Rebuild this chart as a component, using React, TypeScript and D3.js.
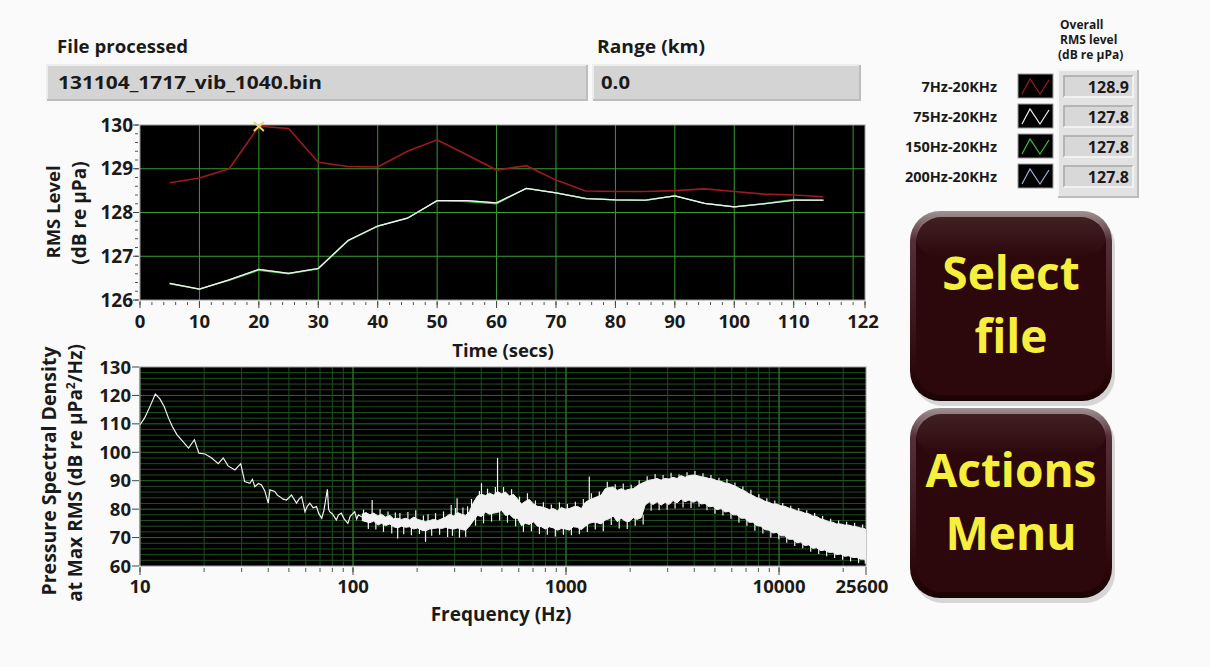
import React from "react";
import * as d3 from "d3";

// ---------- DATA ----------
const fileName = "131104_1717_vib_1040.bin";
const rangeKm = "0.0";

const timeSecs = [5, 10, 15, 20, 25, 30, 35, 40, 45, 50, 55, 60, 65, 70, 75, 80, 85, 90, 95, 100, 105, 110, 115];
const rms7Hz = [128.68, 128.79, 129.0, 129.97, 129.92, 129.15, 129.05, 129.04, 129.4, 129.66, 129.32, 128.97, 129.07, 128.74, 128.49, 128.48, 128.48, 128.5, 128.54, 128.48, 128.42, 128.4, 128.36];
const rms75Hz = [126.38, 126.25, 126.46, 126.7, 126.61, 126.72, 127.36, 127.69, 127.87, 128.27, 128.27, 128.22, 128.55, 128.45, 128.32, 128.29, 128.28, 128.38, 128.21, 128.13, 128.2, 128.28, 128.28];
const rms150Hz = [126.37, 126.25, 126.45, 126.68, 126.6, 126.71, 127.35, 127.69, 127.87, 128.27, 128.25, 128.2, 128.55, 128.45, 128.32, 128.29, 128.28, 128.38, 128.21, 128.13, 128.2, 128.3, 128.28];
const rms200Hz = [126.38, 126.25, 126.46, 126.7, 126.61, 126.72, 127.36, 127.69, 127.87, 128.27, 128.27, 128.22, 128.55, 128.45, 128.32, 128.29, 128.28, 128.38, 128.21, 128.13, 128.2, 128.28, 128.28];

const bandNames = ["7Hz-20KHz", "75Hz-20KHz", "150Hz-20KHz", "200Hz-20KHz"];
const bandColors = ["#a3191b", "#f2f2f2", "#3fbf3f", "#8fb8d8"];
const overallRms = ["128.9", "127.8", "127.8", "127.8"];

const timeTicks = [0, 10, 20, 30, 40, 50, 60, 70, 80, 90, 100, 110, 122];
const timeGrid = [10, 20, 30, 40, 50, 60, 70, 80, 90, 100, 110, 120];
const rmsTicks = [126, 127, 128, 129, 130];

const freqTicks = [10, 100, 1000, 10000, 25600];
const psdTicks = [60, 70, 80, 90, 100, 110, 120, 130];

// PSD single trace, 10 Hz .. 110 Hz  [Hz, dB]
const psdTrace: [number, number][] = [
  [10, 109.7], [10.5, 112], [11.2, 116.5], [11.8, 120.5], [12.4, 118.8], [13.0, 116], [13.6, 112.1], [14.2, 109],
  [14.9, 106.2], [15.8, 104], [16.9, 101.5], [18.0, 104.4], [18.9, 99.7], [20.2, 99.4], [21.7, 98.0], [23.3, 96.0],
  [24.6, 98.0], [25.9, 95.2], [27.9, 93.8], [29.7, 96.0], [31.0, 89.7], [32.8, 89.1], [33.7, 90.5], [34.6, 87.9],
  [36, 89], [37.2, 88.5], [38.5, 86.5], [40.0, 82.1], [40.7, 86.8], [42.9, 86.2], [44, 85], [45.3, 84.4],
  [47, 83.5], [48.7, 83.2], [50, 84], [51.4, 85.0], [54.3, 82.1], [55.8, 83.5], [57.4, 84.4], [59.5, 79.1],
  [61, 81], [62.7, 82.1], [65, 80.5], [67.4, 80.9], [69, 78.5], [71.3, 76.8], [73, 79.5], [75.8, 87.0],
  [76.8, 80], [77.7, 79.1], [80, 78.3], [83.5, 76.2], [85.5, 78], [88.1, 78.6], [91, 76.5], [94.6, 75.0],
  [97, 77.5], [101.9, 79.1], [104, 76.5], [106, 78], [110, 77.2],
];

// PSD dense band, 110 Hz .. 25.6 kHz  [Hz, upper dB, lower dB]
const psdBand: [number, number, number][] = [
  [110, 78.2, 76.0], [115, 78.8, 75.6], [120, 78.0, 75.2], [125, 78.6, 75.8], [131, 77.6, 74.4], [136, 78.2, 75.0],
  [142, 77.2, 74.2], [149, 77.8, 74.8], [155, 76.6, 73.8], [162, 76.8, 73.4], [169, 76.4, 74.0], [177, 76.8, 73.6],
  [184, 76.2, 73.8], [193, 77.2, 73.0], [201, 76.4, 73.4], [210, 76.0, 72.6], [219, 75.6, 72.4], [229, 76.0, 73.0],
  [239, 76.4, 73.2], [250, 76.0, 73.4], [261, 76.6, 73.2], [272, 77.2, 73.6], [284, 78.2, 73.2], [297, 77.6, 73.0],
  [310, 78.8, 73.4], [323, 78.2, 72.8], [338, 77.8, 72.6], [352, 79.2, 74.0], [368, 82.4, 76.0], [384, 84.6, 77.8],
  [401, 85.2, 77.4], [419, 84.8, 79.0], [437, 85.6, 78.2], [457, 85.0, 78.6], [477, 86.2, 78.8], [498, 85.4, 79.6],
  [520, 86.0, 77.8], [543, 84.6, 78.2], [567, 85.2, 76.8], [592, 83.6, 76.8], [618, 81.8, 74.2], [645, 82.8, 75.0],
  [673, 83.4, 74.6], [703, 81.8, 75.6], [734, 81.0, 74.0], [766, 80.8, 73.8], [800, 80.4, 73.0], [835, 79.8, 73.8],
  [872, 80.2, 73.4], [911, 79.4, 72.6], [951, 80.6, 73.2], [993, 80.0, 73.0], [1037, 80.2, 72.6], [1082, 80.8, 73.8],
  [1130, 81.0, 73.6], [1180, 80.2, 72.8], [1232, 82.4, 74.0], [1286, 83.2, 75.0], [1343, 83.8, 75.4], [1402, 84.4, 75.2],
  [1464, 85.0, 74.8], [1528, 87.2, 76.2], [1596, 87.6, 76.6], [1666, 87.8, 77.6], [1739, 86.6, 75.6], [1816, 87.2, 76.8],
  [1896, 86.6, 75.8], [1980, 87.0, 75.6], [2067, 87.2, 77.0], [2158, 88.2, 76.4], [2253, 89.0, 77.0], [2352, 89.6, 81.4],
  [2456, 90.2, 82.6], [2564, 90.4, 81.6], [2677, 90.8, 82.6], [2795, 90.2, 81.4], [2918, 90.8, 82.4], [3047, 90.6, 81.6],
  [3181, 91.2, 83.0], [3321, 90.8, 82.2], [3468, 91.8, 83.6], [3621, 91.2, 82.6], [3780, 91.8, 83.2], [3947, 92.0, 82.4],
  [4120, 91.8, 83.0], [4302, 91.4, 81.8], [4492, 91.2, 82.0], [4690, 90.8, 80.8], [4896, 90.6, 81.0], [5112, 90.0, 79.8],
  [5337, 89.8, 80.2], [5572, 89.2, 79.0], [5818, 89.0, 79.2], [6074, 88.4, 78.0], [6342, 87.8, 78.0], [6621, 87.0, 76.8],
  [6913, 86.4, 76.8], [7218, 85.4, 75.4], [7535, 84.8, 75.4], [7867, 84.0, 74.2], [8214, 83.6, 74.0], [8576, 82.8, 72.8],
  [8954, 82.4, 72.6], [9348, 81.8, 71.6], [9760, 81.8, 71.8], [10190, 81.2, 70.6], [10640, 81.0, 70.6], [11110, 80.4, 69.4],
  [11600, 80.0, 69.4], [12110, 79.4, 68.2], [12640, 79.2, 68.4], [13200, 78.6, 67.2], [13780, 78.4, 67.4], [14390, 77.6, 66.2],
  [15020, 77.4, 66.4], [15680, 76.6, 65.4], [16370, 76.2, 65.6], [17100, 75.6, 64.8], [17850, 75.4, 64.8], [18640, 74.8, 64.0],
  [19460, 74.8, 64.2], [20310, 74.4, 63.4], [21210, 74.4, 63.6], [22140, 74.0, 63.0], [23120, 73.8, 63.0], [24140, 73.4, 62.4],
  [25200, 73.2, 62.4], [25600, 72.6, 61.6],
];

// PSD spikes on the band edges  [Hz, top dB, bottom dB]
const psdSpikes: [number, number, number][] = [
  [112, 79.8, 76], [118, 76, 73.0], [123, 83.2, 77], [128, 76, 72.8], [134, 80.0, 76], [139, 75, 72.0], [146, 79.2, 76],
  [152, 75, 71.4], [158, 78.8, 75], [162, 75, 69.7], [166, 78.6, 75], [173, 74, 71.2], [181, 79.0, 75], [188, 74, 70.8],
  [197, 79.6, 75], [205, 74, 71.2], [214, 77.8, 74], [219, 74, 68.5], [225, 78.2, 74], [234, 74, 70.6], [244, 78.6, 74],
  [255, 74, 71.0], [266, 79.2, 75], [278, 74, 70.2], [289, 81.5, 75], [293, 74, 70.6], [303, 80.4, 75], [308, 83.8, 75],
  [316, 74, 70.0], [328, 80.6, 75], [338, 74, 70.3], [345, 81.0, 75],
  [360, 83.6, 78], [376, 78, 74.2], [392, 86.4, 80], [401, 89.1, 80], [410, 79, 75.0], [428, 87.2, 81], [447, 79, 75.6],
  [466, 87.8, 81], [477, 98.0, 82], [488, 80, 76.0], [509, 87.8, 82], [531, 79, 75.2], [555, 87.0, 81], [580, 78, 74.0],
  [605, 84.4, 79], [631, 76, 72.0], [659, 85.6, 79], [688, 76, 72.2], [718, 83.0, 78], [750, 75, 71.2], [783, 82.4, 77],
  [817, 75, 71.0], [853, 81.6, 77], [891, 75, 70.4], [931, 82.4, 77], [972, 75, 71.0], [1015, 81.8, 77], [1060, 75, 70.8],
  [1106, 82.6, 77], [1155, 75, 71.2], [1206, 83.6, 78], [1259, 76, 72.0], [1286, 91.5, 80], [1315, 85.6, 80], [1372, 77, 72.8],
  [1433, 86.2, 80], [1496, 76, 72.2], [1562, 89.6, 83], [1631, 78, 74.4], [1702, 88.8, 82], [1777, 77, 73.2], [1856, 89.0, 83],
  [1938, 77, 73.0], [2023, 88.6, 83], [2112, 78, 74.2], [2205, 90.2, 84], [2302, 78, 74.6],
  [2404, 91.6, 86], [2510, 83, 79.4], [2620, 92.4, 86], [2736, 83, 79.6], [2856, 92.0, 86], [2982, 83, 79.8], [3113, 92.8, 86],
  [3250, 83, 80.2], [3393, 92.2, 86], [3543, 84, 80.6], [3699, 93.0, 87], [3862, 84, 80.4], [4032, 93.4, 87], [4210, 84, 80.8],
  [4396, 92.6, 87], [4589, 83, 79.6], [4792, 92.0, 86], [5003, 82, 78.4], [5223, 91.0, 86], [5453, 81, 77.8], [5695, 90.6, 85],
  [5946, 80, 76.6], [6207, 89.4, 84], [6481, 79, 75.2], [6767, 88.0, 83], [7065, 78, 74.2], [7377, 86.8, 82], [7702, 76, 72.4],
  [8041, 85.2, 80], [8395, 75, 71.4], [8765, 83.8, 79], [9151, 74, 70.0], [9553, 83.0, 78], [9975, 73, 69.4], [10410, 82.2, 77],
  [10870, 72, 68.2], [11350, 81.2, 76], [11850, 71, 67.0], [12370, 80.4, 75], [12920, 70, 66.2], [13490, 79.6, 74],
  [14080, 69, 65.0], [14700, 78.6, 73], [15350, 68, 64.2], [16020, 77.6, 72], [16730, 67, 63.4], [17470, 76.6, 71],
  [18240, 66, 62.8], [19040, 76.0, 70], [19880, 65, 62.2], [20760, 75.6, 70], [21670, 65, 61.6], [22630, 75.2, 69],
  [23630, 64, 61.0], [24670, 74.6, 69], [25400, 64, 60.8],
];

// ---------- STYLE ----------
const FONT = "'Open Sans', 'Noto Sans', sans-serif";
const TXT = "#1a1a1a";

function Button({ x, y, w, h, lines }: { x: number; y: number; w: number; h: number; lines: string[] }) {
  return (
    <g transform={`translate(${x},${y})`}>
      <rect x={3} y={5} width={w} height={h} rx={30} fill="#b8b8b8" opacity={0.55} />
      <rect x={0} y={0} width={w} height={h} rx={30} fill="url(#btnRim)" />
      <rect x={6} y={6} width={w - 12} height={h - 12} rx={25} fill="#2c080c" />
      <rect x={6} y={6} width={w - 12} height={40} rx={25} fill="url(#btnGloss)" />
      {lines.map((t, i) => (
        <text
          key={t}
          x={w / 2}
          y={i === 0 ? 79 : 142}
          textAnchor="middle"
          fontFamily={FONT}
          fontWeight={700}
          fontSize={46}
          fill="#f6ef3c"
        >
          {t}
        </text>
      ))}
    </g>
  );
}

export default function App() {
  // top chart scales
  const xT = d3.scaleLinear().domain([0, 122]).range([140, 865]);
  const yT = d3.scaleLinear().domain([126, 130]).range([300, 125]);
  const lineT = (vals: number[]) =>
    d3.line<number>().x((_, i) => xT(timeSecs[i])).y((d) => yT(d))(vals) || "";

  // bottom chart scales
  const xB = d3.scaleLog().domain([10, 25600]).range([140, 866]);
  const yB = d3.scaleLinear().domain([60, 130]).range([566, 367]);

  const trace =
    d3.line<[number, number]>().x((d) => xB(d[0])).y((d) => yB(d[1]))(psdTrace) || "";
  const bandArea =
    d3
      .area<[number, number, number]>()
      .x((d) => xB(d[0]))
      .y0((d) => yB(d[2]))
      .y1((d) => yB(d[1]))(psdBand) || "";
  const bandHiLine =
    d3.line<[number, number, number]>().x((d) => xB(d[0])).y((d) => yB(d[1]))(psdBand) || "";
  const bandLoLine =
    d3.line<[number, number, number]>().x((d) => xB(d[0])).y((d) => yB(d[2]))(psdBand) || "";

  const timeMinor = d3.range(0, 123, 2);
  const rmsMinor = d3.range(126, 130.001, 0.2);

  const freqMinor: number[] = [];
  [10, 100, 1000, 10000].forEach((dec) => {
    for (let k = 1; k <= 9; k++) {
      const f = k * dec;
      if (f <= 25600) freqMinor.push(f);
    }
  });
  const freqMajorGrid = [100, 1000, 10000];
  const psdGrid = d3.range(62, 130, 2);

  const legendRowY = [86, 116, 146, 176];
  const psdWhite = "#f2f2f2";

  return (
    <svg
      width={1210}
      height={667}
      style={{ position: "absolute", left: 0, top: 0, background: "#fafafa" }}
    >
      <defs>
        <linearGradient id="btnRim" x1="0" y1="0" x2="0" y2="1">
          <stop offset="0" stopColor="#a09292" />
          <stop offset="0.15" stopColor="#55303a" />
          <stop offset="0.85" stopColor="#2a0709" />
          <stop offset="1" stopColor="#1a0304" />
        </linearGradient>
        <linearGradient id="btnGloss" x1="0" y1="0" x2="0" y2="1">
          <stop offset="0" stopColor="#ffffff" stopOpacity={0.1} />
          <stop offset="1" stopColor="#ffffff" stopOpacity={0} />
        </linearGradient>
        <clipPath id="psdClip">
          <rect x={140} y={367} width={726} height={199} />
        </clipPath>
      </defs>
      <rect x={0} y={0} width={1210} height={667} fill="#fafafa" />

      {/* ----- header fields ----- */}
      <text x={57} y={53} fontFamily={FONT} fontWeight={700} fontSize={17} fill={TXT} textLength={131} lengthAdjust="spacingAndGlyphs">
        File processed
      </text>
      <rect x={47} y={65} width={540} height={35} fill="#d4d4d4" />
      <path d="M47,100 V65 H587" fill="none" stroke="#ededed" strokeWidth={2} />
      <path d="M47,100 H587 V65" fill="none" stroke="#bdbdbd" strokeWidth={2} />
      <text x={58} y={89} fontFamily={FONT} fontWeight={700} fontSize={17.5} fill={TXT} textLength={264} lengthAdjust="spacingAndGlyphs">
        {fileName}
      </text>

      <text x={597} y={53} fontFamily={FONT} fontWeight={700} fontSize={17} fill={TXT} textLength={108} lengthAdjust="spacingAndGlyphs">
        Range (km)
      </text>
      <rect x={593} y={65} width={267} height={35} fill="#d4d4d4" />
      <path d="M593,100 V65 H860" fill="none" stroke="#ededed" strokeWidth={2} />
      <path d="M593,100 H860 V65" fill="none" stroke="#bdbdbd" strokeWidth={2} />
      <text x={601} y={89} fontFamily={FONT} fontWeight={700} fontSize={17.5} fill={TXT} textLength={29} lengthAdjust="spacingAndGlyphs">
        {rangeKm}
      </text>

      {/* ----- legend ----- */}
      {["Overall", "RMS level", "(dB re µPa)"].map((t, i) => (
        <text key={t} x={i === 2 ? 1058 : 1060} y={29 + i * 15} fontFamily={FONT} fontWeight={700} fontSize={12} fill={TXT}>
          {t}
        </text>
      ))}
      <rect x={1058} y={70} width={80} height={127} fill="#e2e2e2" />
      <path d="M1058,197 V70 H1138" fill="none" stroke="#f6f6f6" strokeWidth={2} />
      <path d="M1058,197 H1138 V70" fill="none" stroke="#bcbcbc" strokeWidth={2} />
      {bandNames.map((name, i) => {
        const cy = legendRowY[i];
        return (
          <g key={name}>
            <text x={997} y={cy + 6} textAnchor="end" fontFamily={FONT} fontWeight={700} fontSize={14.5} fill={TXT}>
              {name}
            </text>
            <rect x={1018} y={cy - 12} width={35} height={24} fill="#000" stroke="#9a9a9a" strokeWidth={1} />
            <path
              d={`M${1022},${cy + 8} L${1030},${cy - 7} L${1040},${cy + 8} L${1049},${cy - 6}`}
              fill="none"
              stroke={bandColors[i]}
              strokeWidth={1.2}
            />
            <rect x={1064} y={cy - 10} width={69} height={21} fill="#d8d8d8" />
            <path d={`M1064,${cy + 11} V${cy - 10} H1133`} fill="none" stroke="#a8a8a8" strokeWidth={1.5} />
            <path d={`M1064,${cy + 11} H1133 V${cy - 10}`} fill="none" stroke="#f8f8f8" strokeWidth={1.5} />
            <text x={1129} y={cy + 7} textAnchor="end" fontFamily={FONT} fontWeight={700} fontSize={16} fill={TXT}>
              {overallRms[i]}
            </text>
          </g>
        );
      })}

      {/* ----- buttons ----- */}
      <Button x={910} y={211} w={202} h={190} lines={["Select", "file"]} />
      <Button x={910} y={408} w={202} h={190} lines={["Actions", "Menu"]} />

      {/* ----- top chart ----- */}
      <rect x={140} y={125} width={725} height={175} fill="#000" />
      {timeGrid.map((t) => (
        <line key={t} x1={xT(t)} x2={xT(t)} y1={125} y2={300} stroke="#3b9a34" strokeWidth={1} />
      ))}
      {[127, 128, 129].map((v) => (
        <line key={v} x1={140} x2={865} y1={yT(v)} y2={yT(v)} stroke="#3b9a34" strokeWidth={1} />
      ))}
      <rect x={140} y={125} width={725} height={175} fill="none" stroke="#9a9a9a" strokeWidth={1} />
      <path d={lineT(rms200Hz)} fill="none" stroke={bandColors[3]} strokeWidth={1.3} />
      <path d={lineT(rms150Hz)} fill="none" stroke={bandColors[2]} strokeWidth={1.3} />
      <path d={lineT(rms75Hz)} fill="none" stroke={bandColors[1]} strokeWidth={1.2} />
      <path d={lineT(rms7Hz)} fill="none" stroke="#9e1a1c" strokeWidth={1.6} />
      {/* cursor */}
      <g stroke="#e8d86a" strokeWidth={2}>
        <line x1={xT(20) - 5} y1={yT(130) - 3} x2={xT(20) + 5} y2={yT(130) + 6} />
        <line x1={xT(20) - 5} y1={yT(130) + 6} x2={xT(20) + 5} y2={yT(130) - 3} />
      </g>
      {/* x ticks */}
      {timeMinor.map((t) => (
        <line key={"m" + t} x1={xT(t)} x2={xT(t)} y1={302} y2={305} stroke="#555" strokeWidth={1} />
      ))}
      {timeTicks.map((t) => (
        <line key={"M" + t} x1={xT(t)} x2={xT(t)} y1={301} y2={308} stroke="#444" strokeWidth={1} />
      ))}
      {timeTicks.map((t) => (
        <text key={"l" + t} x={t === 122 ? xT(t) - 2 : xT(t)} y={328} textAnchor="middle" fontFamily={FONT} fontWeight={700} fontSize={18.5} fill={TXT}>
          {t}
        </text>
      ))}
      <text x={503} y={357} textAnchor="middle" fontFamily={FONT} fontWeight={700} fontSize={18.5} fill={TXT}>
        Time (secs)
      </text>
      {/* y ticks */}
      {rmsMinor.map((v) => (
        <line key={"ym" + v} x1={135} x2={138} y1={yT(v)} y2={yT(v)} stroke="#555" strokeWidth={1} />
      ))}
      {rmsTicks.map((v) => (
        <g key={"y" + v}>
          <line x1={133} x2={139} y1={yT(v)} y2={yT(v)} stroke="#444" strokeWidth={1} />
          <text x={133} y={yT(v) + 6.5} textAnchor="end" fontFamily={FONT} fontWeight={700} fontSize={19} fill={TXT}>
            {v}
          </text>
        </g>
      ))}
      <text transform="translate(60,212) rotate(-90)" textAnchor="middle" fontFamily={FONT} fontWeight={700} fontSize={18.5} fill={TXT}>
        RMS Level
      </text>
      <text transform="translate(86,213) rotate(-90)" textAnchor="middle" fontFamily={FONT} fontWeight={700} fontSize={19} fill={TXT}>
        (dB re µPa)
      </text>

      {/* ----- bottom chart ----- */}
      <rect x={140} y={367} width={726} height={199} fill="#000" />
      {psdGrid.map((v) => (
        <line key={"h" + v} x1={140} x2={866} y1={yB(v)} y2={yB(v)} stroke={v % 10 === 0 ? "#2a6a2a" : "#1d4f1f"} strokeWidth={1} />
      ))}
      {freqMinor.map((f) => (
        <line key={"v" + f} x1={xB(f)} x2={xB(f)} y1={367} y2={566} stroke="#1d4f1f" strokeWidth={1} />
      ))}
      {freqMajorGrid.map((f) => (
        <line key={"V" + f} x1={xB(f)} x2={xB(f)} y1={367} y2={566} stroke="#2f7a2f" strokeWidth={1} />
      ))}
      <rect x={140} y={367} width={726} height={199} fill="none" stroke="#9a9a9a" strokeWidth={1} />
      <g clipPath="url(#psdClip)">
        <path d={bandArea} fill={psdWhite} stroke="none" />
        <path d={bandHiLine} fill="none" stroke={psdWhite} strokeWidth={1} />
        <path d={bandLoLine} fill="none" stroke={psdWhite} strokeWidth={1} />
        {psdSpikes.map((s, i) => (
          <line key={"sp" + i} x1={xB(s[0])} x2={xB(s[0])} y1={yB(s[1])} y2={yB(s[2])} stroke={psdWhite} strokeWidth={1.2} />
        ))}
        <path d={trace} fill="none" stroke={psdWhite} strokeWidth={1.2} />
      </g>
      {/* x ticks */}
      {freqMinor.map((f) => (
        <line key={"xm" + f} x1={xB(f)} x2={xB(f)} y1={568} y2={572} stroke="#555" strokeWidth={1} />
      ))}
      {freqTicks.map((f) => (
        <g key={"xt" + f}>
          <line x1={xB(f)} x2={xB(f)} y1={567} y2={575} stroke="#444" strokeWidth={1} />
          <text x={f === 25600 ? xB(f) - 4 : xB(f)} y={593} textAnchor="middle" fontFamily={FONT} fontWeight={700} fontSize={18.5} fill={TXT}>
            {f}
          </text>
        </g>
      ))}
      <text x={501} y={621} textAnchor="middle" fontFamily={FONT} fontWeight={700} fontSize={19} fill={TXT}>
        Frequency (Hz)
      </text>
      {/* y ticks */}
      {psdTicks.map((v) => (
        <g key={"py" + v}>
          <line x1={132} x2={139} y1={yB(v)} y2={yB(v)} stroke="#444" strokeWidth={1} />
          <text x={131} y={yB(v) + 6.5} textAnchor="end" fontFamily={FONT} fontWeight={700} fontSize={18.5} fill={TXT}>
            {v}
          </text>
        </g>
      ))}
      <text transform="translate(56,471) rotate(-90)" textAnchor="middle" fontFamily={FONT} fontWeight={700} fontSize={19.5} fill={TXT}>
        Pressure Spectral Density
      </text>
      <text transform="translate(82,473) rotate(-90)" textAnchor="middle" fontFamily={FONT} fontWeight={700} fontSize={19} fill={TXT}>
        at Max RMS (dB re µPa<tspan dy={-7} fontSize={12}>2</tspan><tspan dy={7}>/Hz)</tspan>
      </text>
    </svg>
  );
}
